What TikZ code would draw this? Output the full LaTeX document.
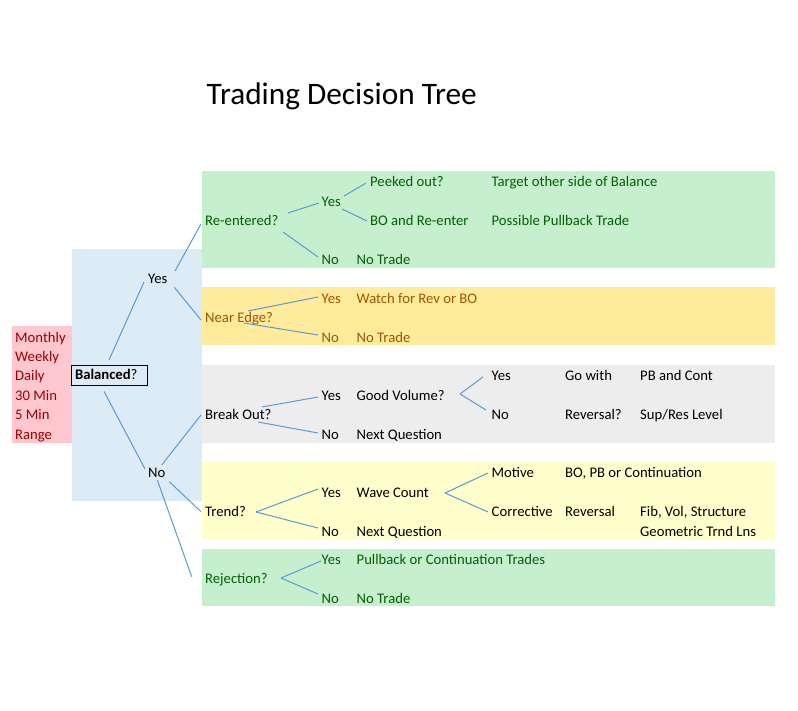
\documentclass[tikz,border=0pt]{standalone}
\usepackage{fontspec}
\setmainfont{Carlito}
\usetikzlibrary{calc}
\definecolor{badfill}{HTML}{FFC7CE}
\definecolor{badtext}{HTML}{9C0006}
\definecolor{goodfill}{HTML}{C6EFCE}
\definecolor{goodtext}{HTML}{006100}
\definecolor{neutfill}{HTML}{FFEB9C}
\definecolor{neuttext}{HTML}{9C5700}
\definecolor{grayfill}{HTML}{EDEDED}
\definecolor{notefill}{HTML}{FFFFCC}
\definecolor{bluefill}{HTML}{DDEBF7}
\definecolor{linecol}{HTML}{5B9BD5}
\tikzset{
  txt/.style={anchor=base west, inner sep=0pt, font=\fontsize{14.67pt}{17pt}\selectfont},
  good/.style={txt, text=goodtext},
  neut/.style={txt, text=neuttext},
  bad/.style={txt, text=badtext},
  conn/.style={draw=linecol, line width=1pt},
}
\begin{document}
\begin{tikzpicture}[x=1pt,y=-1pt]
\useasboundingbox (0,0) rectangle (798,711);
% backgrounds
\fill[bluefill] (72,248.6) rectangle (202,500.6);
\fill[badfill] (12,326) rectangle (72,442.5);
\fill[goodfill] (202,171) rectangle (775,268);
\fill[neutfill] (202,287.3) rectangle (775,345.5);
\fill[grayfill] (202,364.9) rectangle (775,442.5);
\fill[notefill] (202,461.9) rectangle (775,539.5);
\fill[goodfill] (202,549) rectangle (775,606);
% title
\node[anchor=base west, inner sep=0pt, font=\fontsize{31.3pt}{34pt}\selectfont] (title) at (206.5,104.3) {Trading Decision Tree};
% timeframes
\node[bad] (m1) at (15,342.1) {Monthly};
\node[bad] (m2) at (15,361.5) {Weekly};
\node[bad] (m3) at (15,380.9) {Daily};
\node[bad] (m4) at (15,400.3) {30 Min};
\node[bad] (m5) at (15,419.7) {5 Min};
\node[bad] (m6) at (15,439.1) {Range};
% balanced
\node[draw=black, line width=1.4pt, anchor=north west, minimum width=75.7pt, minimum height=20pt,
      text width=69pt, inner xsep=3.35pt, inner ysep=0pt, align=left, text height=10pt, text depth=3pt,
      font=\fontsize{14.67pt}{17pt}\selectfont] (bal) at (71,365) {\textbf{Balanced}?};
\node[txt] (yes0) at (148,283.9) {Yes};
\node[txt] (no0) at (148,477.9) {No};
% re-entered
\node[good] (reent) at (205,225.8) {Re-entered?};
\node[good] (ry) at (321.5,206.4) {Yes};
\node[good] (peek) at (370,187) {Peeked out?};
\node[good] (bore) at (370,225.8) {BO and Re-enter};
\node[good] (target) at (491.5,187) {Target other side of Balance};
\node[good] (possible) at (491.5,225.8) {Possible Pullback Trade};
\node[good] (rn) at (321.5,264.6) {No};
\node[good] (rnt) at (356.5,264.6) {No Trade};
% near edge
\node[neut] (nearedge) at (205,322.7) {Near Edge?};
\node[neut] (ny) at (321.5,303.3) {Yes};
\node[neut] (nyt) at (356.5,303.3) {Watch for Rev or BO};
\node[neut] (nn) at (321.5,342.1) {No};
\node[neut] (nnt) at (356.5,342.1) {No Trade};
% break out
\node[txt] (breakout) at (205,419.7) {Break Out?};
\node[txt] (by) at (321.5,400.3) {Yes};
\node[txt] (gv) at (356.5,400.3) {Good Volume?};
\node[txt] (bn) at (321.5,439.1) {No};
\node[txt] (nq1) at (356.5,439.1) {Next Question};
\node[txt] (gy) at (491.5,380.9) {Yes};
\node[txt] (gowith) at (565,380.9) {Go with};
\node[txt] (pbc) at (640,380.9) {PB and Cont};
\node[txt] (gn) at (491.5,419.7) {No};
\node[txt] (revq) at (565,419.7) {Reversal?};
\node[txt] (supres) at (640,419.7) {Sup/Res Level};
% trend
\node[txt] (trend) at (205,516.6) {Trend?};
\node[txt] (ty) at (321.5,497.2) {Yes};
\node[txt] (wc) at (356.5,497.2) {Wave Count};
\node[txt] (tn) at (321.5,536) {No};
\node[txt] (nq2) at (356.5,536) {Next Question};
\node[txt] (mot) at (491.5,477.9) {Motive};
\node[txt] (bopb) at (565,477.9) {BO, PB or Continuation};
\node[txt] (cor) at (491.5,516.6) {Corrective};
\node[txt] (rev) at (565,516.6) {Reversal};
\node[txt] (fib) at (640,516.6) {Fib, Vol, Structure};
\node[txt] (geo) at (640,536) {Geometric Trnd Lns};
% rejection
\node[good] (rejection) at (205,583.7) {Rejection?};
\node[good] (jy) at (321.5,564.3) {Yes};
\node[good] (pct) at (356.5,564.3) {Pullback or Continuation Trades};
\node[good] (jn) at (321.5,603) {No};
\node[good] (jnt) at (356.5,603) {No Trade};
% connectors
\draw[conn] ($(bal.north west)+(38,-5)$) -- ($(yes0.base west)+(-4,-1.9)$);
\draw[conn] ($(bal.south west)+(33,5)$) -- ($(no0.base west)+(-3,-8.9)$);
\draw[conn] ($(yes0.base west)+(27,-12.9)$) -- ($(reent.base west)+(-4,-1.8)$);
\draw[conn] ($(yes0.base west)+(26.3,3.4)$) -- ($(nearedge.base west)+(-4,-2.7)$);
\draw[conn] ($(no0.base west)+(13.7,-12.9)$) -- ($(breakout.base west)+(-4,-4.7)$);
\draw[conn] ($(no0.base west)+(21.3,3.8)$) -- ($(trend.base west)+(-4,-4.9)$);
\draw[conn] ($(no0.base west)+(9.3,2.1)$) -- ($(rejection.base west)+(-13.3,-7)$);
\draw[conn] ($(reent.base west)+(83,-12.8)$) -- ($(ry.base west)+(-2.5,-3.4)$);
\draw[conn] ($(ry.base west)+(22.5,-10.4)$) -- ($(peek.base west)+(-4,-4)$);
\draw[conn] ($(ry.base west)+(20.5,2.6)$) -- ($(bore.base west)+(-3,-4.8)$);
\draw[conn] ($(reent.base west)+(78,6.2)$) -- ($(rn.base west)+(-3.5,-7.6)$);
\draw[conn] ($(nearedge.base west)+(43,-11.7)$) -- ($(ny.base west)+(-3.5,-6.3)$);
\draw[conn] ($(nearedge.base west)+(39,0.3)$) -- ($(nn.base west)+(-3.5,-7.1)$);
\draw[conn] ($(breakout.base west)+(57,-12.7)$) -- ($(by.base west)+(-3.5,-3.3)$);
\draw[conn] ($(breakout.base west)+(53,2.3)$) -- ($(bn.base west)+(-3.5,-6.1)$);
\draw[conn] ($(gv.base west)+(103.5,-6.3)$) -- ($(gy.base west)+(-8.5,-3.9)$);
\draw[conn] ($(gv.base west)+(103.5,-6.3)$) -- ($(gn.base west)+(-5.5,-9.7)$);
\draw[conn] ($(trend.base west)+(51,-4.6)$) -- ($(ty.base west)+(-3.5,-8.2)$);
\draw[conn] ($(trend.base west)+(51,-4.6)$) -- ($(tn.base west)+(-3.5,-8)$);
\draw[conn] ($(wc.base west)+(88.5,-4.2)$) -- ($(mot.base west)+(-3.5,-4.9)$);
\draw[conn] ($(wc.base west)+(88.5,-4.2)$) -- ($(cor.base west)+(-3.5,-4.6)$);
\draw[conn] ($(rejection.base west)+(76,-5.7)$) -- ($(jy.base west)+(-0.5,-3.3)$);
\draw[conn] ($(rejection.base west)+(76,-5.7)$) -- ($(jn.base west)+(-3.5,-9)$);
\end{tikzpicture}
\end{document}
